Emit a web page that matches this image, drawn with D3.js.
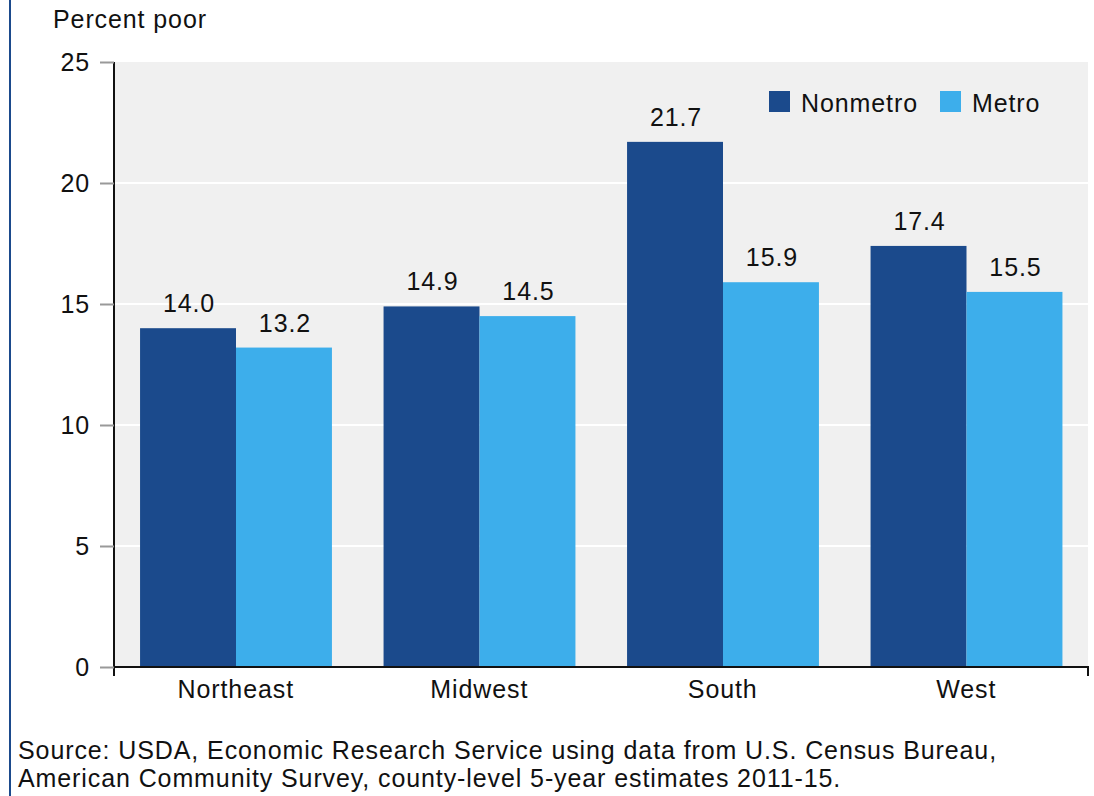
<!DOCTYPE html>
<html>
<head>
<meta charset="utf-8">
<script src="https://cdn.jsdelivr.net/npm/d3@7"></script>
<style>
  html, body { margin: 0; padding: 0; background: #fff; }
  svg { display: block; font-family: "Liberation Sans", Arial, sans-serif; }
  svg text { letter-spacing: 0.9px; }
</style>
</head>
<body>
<svg id="chart" width="1094" height="796"></svg>
<script>
const categories = ["Northeast", "Midwest", "South", "West"];
const seriesNames = ["Nonmetro", "Metro"];
const nonmetro = [14.0, 14.9, 21.7, 17.4];
const metro = [13.2, 14.5, 15.9, 15.5];
const yTicks = [0, 5, 10, 15, 20, 25];
const colors = ["#1b4a8c", "#3daeeb"];
const sourceLines = [
  "Source: USDA, Economic Research Service using data from U.S. Census Bureau,",
  "American Community Survey, county-level 5-year estimates 2011-15."
];

(function () {
const svg = d3.select("#chart");
const mLeft = 114, mRight = 1088, mTop = 62, mBottom = 667;
const FS = 25;

// left border line
svg.append("line").attr("x1", 10).attr("x2", 10).attr("y1", 0).attr("y2", 796)
  .attr("stroke", "#1b4a8c").attr("stroke-width", 2);

const x0 = d3.scaleBand().domain(categories).range([mLeft, mRight]).padding(0);
const x1 = d3.scaleBand().domain(seriesNames)
  .range([x0.bandwidth() * 0.107, x0.bandwidth() * 0.895]).padding(0);
const y = d3.scaleLinear().domain([0, 25]).range([mBottom, mTop]);

// plot background
svg.append("rect").attr("x", mLeft).attr("y", mTop)
  .attr("width", mRight - mLeft).attr("height", mBottom - mTop).attr("fill", "#f0f0f0");

// gridlines
svg.append("g").selectAll("line").data(yTicks.filter(d => d > 0 && d < 25)).join("line")
  .attr("x1", mLeft).attr("x2", mRight)
  .attr("y1", d => y(d)).attr("y2", d => y(d))
  .attr("stroke", "#ffffff").attr("stroke-width", 2);

// bars
const rows = categories.map((c, i) => ({ cat: c, vals: [nonmetro[i], metro[i]] }));
const groups = svg.append("g").selectAll("g").data(rows).join("g")
  .attr("transform", d => `translate(${x0(d.cat)},0)`);
groups.selectAll("rect").data(d => d.vals.map((v, j) => ({ s: seriesNames[j], v, j }))).join("rect")
  .attr("x", d => x1(d.s)).attr("width", x1.bandwidth())
  .attr("y", d => y(d.v)).attr("height", d => y(0) - y(d.v))
  .attr("fill", d => colors[d.j]);
groups.selectAll("text").data(d => d.vals.map((v, j) => ({ s: seriesNames[j], v, j }))).join("text")
  .attr("x", d => x1(d.s) + x1.bandwidth() / 2 + 1)
  .attr("y", d => y(d.v) - 16)
  .attr("text-anchor", "middle")
  .attr("font-size", FS).attr("fill", "#111")
  .text(d => d.v.toFixed(1));

// y axis
const yAxis = svg.append("g").attr("transform", `translate(${mLeft},0)`)
  .call(d3.axisLeft(y).tickValues(yTicks).tickSize(14).tickPadding(10).tickFormat(d3.format("d")));
yAxis.select(".domain").attr("stroke", "#111").attr("stroke-width", 2)
  .attr("d", `M0,${mTop}V${mBottom + 9}`);
yAxis.selectAll(".tick line").attr("stroke", "#999").attr("stroke-width", 2);
yAxis.selectAll(".tick text").attr("font-size", FS).attr("fill", "#111")
  .attr("font-family", "Liberation Sans, Arial, sans-serif");

// x axis
const xAxis = svg.append("g").attr("transform", `translate(0,${mBottom})`)
  .call(d3.axisBottom(x0).tickSize(0).tickPadding(13));
xAxis.select(".domain").attr("stroke", "#111").attr("stroke-width", 2)
  .attr("d", `M${mLeft},0H${mRight}V9`);
xAxis.selectAll(".tick text").attr("font-size", FS).attr("fill", "#111")
  .attr("font-family", "Liberation Sans, Arial, sans-serif");

// y title
svg.append("text").attr("x", 53).attr("y", 28).attr("font-size", FS).attr("fill", "#111")
  .text("Percent poor");

// legend
const legX = [769, 940];
const leg = svg.append("g").selectAll("g").data(seriesNames).join("g")
  .attr("transform", (d, i) => `translate(${legX[i]},91)`);
leg.append("rect").attr("width", 21).attr("height", 21).attr("fill", (d, i) => colors[i]);
leg.append("text").attr("x", 32).attr("y", 21).attr("font-size", FS).attr("fill", "#111")
  .text(d => d);

// source
svg.append("g").selectAll("text").data(sourceLines).join("text")
  .attr("x", 18).attr("y", (d, i) => 759 + i * 28)
  .attr("font-size", FS).attr("fill", "#111")
  .text(d => d);
})();
</script>
</body>
</html>
